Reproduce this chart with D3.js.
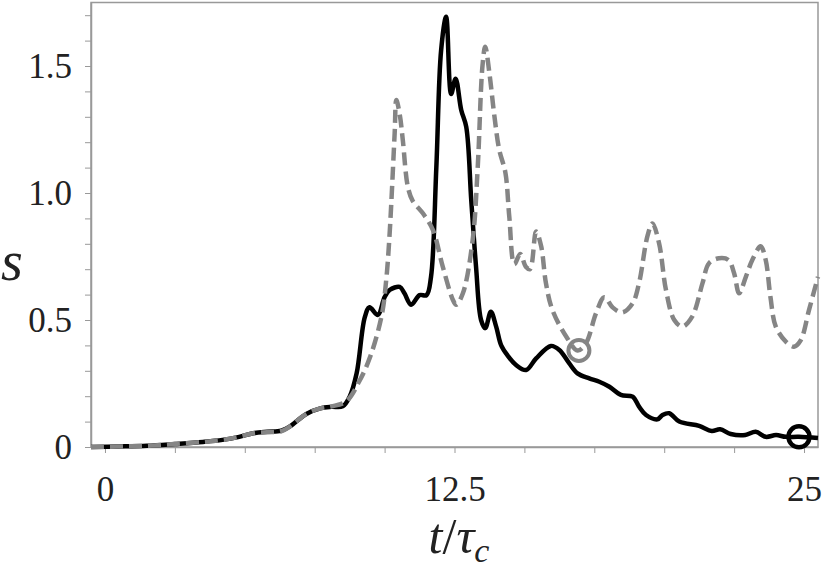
<!DOCTYPE html>
<html>
<head>
<meta charset="utf-8">
<script src="https://cdn.jsdelivr.net/npm/d3@7"></script>
<style>
  svg text, svg tspan { font-family: 'Liberation Serif', 'Times New Roman', serif !important; }
</style>
</head>
<body style="margin:0">
<script>
// t/tau_c, s  (solid black run)
const blackSeries = [
  [-0.5, 0], [0.5, 0.002], [1.5, 0.005], [2.5, 0.012], [3.5, 0.02], [4.2, 0.028], [4.8, 0.04],
  [5.3, 0.054], [5.8, 0.06], [6.3, 0.064], [6.6, 0.08], [7.2, 0.13], [7.7, 0.152], [8.1, 0.158],
  [8.5, 0.16], [8.75, 0.198], [9.0, 0.29], [9.29, 0.51], [9.46, 0.55], [9.76, 0.52], [10.0, 0.59],
  [10.18, 0.618], [10.54, 0.63], [10.71, 0.605], [10.95, 0.56], [11.25, 0.598], [11.5, 0.598],
  [11.66, 0.67], [11.85, 1.1], [12.02, 1.56], [12.2, 1.694], [12.38, 1.39], [12.54, 1.45],
  [12.74, 1.327], [12.92, 1.26], [13.1, 0.97], [13.27, 0.71], [13.45, 0.5], [13.6, 0.468],
  [13.8, 0.532], [13.99, 0.474], [14.17, 0.4], [14.4, 0.36], [14.7, 0.323], [15.06, 0.303],
  [15.42, 0.349], [15.95, 0.398], [16.25, 0.382], [16.6, 0.33], [16.9, 0.29], [17.32, 0.27],
  [17.68, 0.257], [18.04, 0.237], [18.45, 0.205], [18.87, 0.198], [19.1, 0.159], [19.35, 0.126],
  [19.76, 0.109], [19.94, 0.126], [20.18, 0.133], [20.54, 0.1], [21.25, 0.083], [21.7, 0.063],
  [22.0, 0.07], [22.38, 0.051], [22.9, 0.047], [23.27, 0.06], [23.63, 0.04], [24.0, 0.047],
  [24.35, 0.04], [24.82, 0.04], [25.5, 0.035]
];

// t/tau_c, s  (dashed grey run)
const greySeries = [
  [-0.5, 0], [0.5, 0.002], [1.5, 0.005], [2.5, 0.012], [3.5, 0.02], [4.2, 0.028], [4.8, 0.04],
  [5.3, 0.054], [5.8, 0.058], [6.3, 0.062], [6.6, 0.08], [7.2, 0.13], [7.7, 0.152], [8.1, 0.16],
  [8.63, 0.18], [9.1, 0.26], [9.5, 0.36], [9.9, 0.52], [10.06, 0.66], [10.18, 0.84], [10.36, 1.235],
  [10.42, 1.366], [10.54, 1.31], [10.65, 1.21], [10.83, 1.025], [11.0, 0.97], [11.37, 0.92],
  [11.73, 0.854], [12.08, 0.71], [12.44, 0.58], [12.56, 0.56], [12.8, 0.605], [13.15, 0.815],
  [13.33, 1.1], [13.5, 1.5], [13.6, 1.576], [13.75, 1.47], [13.93, 1.3], [14.1, 1.17], [14.32, 1.08],
  [14.46, 0.906], [14.64, 0.72], [14.85, 0.76], [15.05, 0.71], [15.2, 0.70], [15.42, 0.848],
  [15.6, 0.79], [15.77, 0.645], [16.0, 0.54], [16.5, 0.434], [16.9, 0.38], [17.2, 0.408],
  [17.56, 0.526], [17.86, 0.59], [18.15, 0.55], [18.5, 0.53], [18.87, 0.566], [19.1, 0.645],
  [19.4, 0.83], [19.58, 0.88], [19.82, 0.80], [20.06, 0.62], [20.36, 0.5], [20.65, 0.474],
  [21.0, 0.513], [21.37, 0.645], [21.6, 0.723], [21.96, 0.743], [22.3, 0.736], [22.5, 0.684],
  [22.68, 0.605], [22.92, 0.67], [23.15, 0.736], [23.45, 0.79], [23.63, 0.736], [23.8, 0.59],
  [23.99, 0.474], [24.35, 0.415], [24.64, 0.395], [24.88, 0.42], [25.18, 0.54], [25.5, 0.67]
];

// circled points on each run
const greyMarker = [16.95, 0.38];
const blackMarker = [24.82, 0.04];

const xTicks = [0, 2.5, 5, 7.5, 10, 12.5, 15, 17.5, 20, 22.5, 25];
const xTickLabels = ['0', '', '', '', '', '12.5', '', '', '', '', '25'];
const yTicks = [0, 0.1, 0.2, 0.3, 0.4, 0.5, 0.6, 0.7, 0.8, 0.9, 1.0, 1.1, 1.2, 1.3, 1.4, 1.5, 1.6, 1.7];
const yTickLabels = ['0', '', '', '', '', '0.5', '', '', '', '', '1.0', '', '', '', '', '1.5', '', ''];

const width = 825, height = 575;
const margin = { top: 2.5, right: 7, bottom: 128, left: 91 };
const frameColor = '#999';
const textColor = '#222';
const greyColor = '#858585';

const svg = d3.select('body').append('svg')
  .attr('width', width)
  .attr('height', height)
  .attr('font-family', 'Liberation Serif')
  .style('display', 'block');

const xScaleFn = d3.scaleLinear()
  .domain([-0.5, 25.5])
  .range([margin.left, width - margin.right]);

const yScaleFn = d3.scaleLinear()
  .domain([0, 1.75])
  .range([height - margin.bottom, margin.top]);

// frame
svg.append('rect')
  .attr('x', xScaleFn.range()[0])
  .attr('y', yScaleFn.range()[1])
  .attr('width', xScaleFn.range()[1] - xScaleFn.range()[0])
  .attr('height', yScaleFn.range()[0] - yScaleFn.range()[1])
  .attr('fill', 'none')
  .attr('stroke', frameColor)
  .attr('stroke-width', 1.5);

const xAxis = svg.append('g')
  .attr('transform', 'translate(0,' + yScaleFn.range()[0] + ')')
  .call(d3.axisBottom(xScaleFn)
    .tickValues(xTicks)
    .tickSizeInner(6)
    .tickSizeOuter(0)
    .tickFormat((d, i) => xTickLabels[i]))
  .attr('font-family', 'Liberation Serif')
  .attr('font-size', 35);

xAxis.select('.domain').attr('stroke', frameColor).attr('stroke-width', 1.5);
xAxis.selectAll('line').attr('stroke', frameColor);
xAxis.selectAll('text')
  .attr('y', 54)
  .attr('dy', 0)
  .attr('fill', textColor);

const yAxis = svg.append('g')
  .attr('transform', 'translate(' + xScaleFn.range()[0] + ',0)')
  .call(d3.axisLeft(yScaleFn)
    .tickValues(yTicks)
    .tickSizeInner(6)
    .tickSizeOuter(0)
    .tickFormat((d, i) => yTickLabels[i]))
  .attr('font-family', 'Liberation Serif')
  .attr('font-size', 35);

yAxis.select('.domain').attr('stroke', frameColor).attr('stroke-width', 1.5);
yAxis.selectAll('line').attr('stroke', frameColor);
yAxis.selectAll('text')
  .attr('x', -19)
  .attr('dy', '0.34em')
  .attr('fill', textColor);

// axis titles
svg.append('text')
  .attr('x', 1)
  .attr('y', 280)
  .attr('fill', textColor)
  .attr('font-family', 'Liberation Serif')
  .attr('font-style', 'italic')
  .attr('font-size', 56)
  .text('s');

const xTitle = svg.append('text')
  .attr('x', 459)
  .attr('y', 553)
  .attr('text-anchor', 'middle')
  .attr('fill', textColor)
  .attr('font-family', 'Liberation Serif')
  .attr('font-size', 50);
xTitle.append('tspan').attr('font-style', 'italic').text('t');
xTitle.append('tspan').text('/');
xTitle.append('tspan').attr('font-style', 'italic').text('τ');
xTitle.append('tspan')
  .attr('font-style', 'italic')
  .attr('font-size', 34)
  .attr('dy', 9)
  .text('c');

// curves
const line = d3.line()
  .x(d => xScaleFn(d[0]))
  .y(d => yScaleFn(d[1]))
  .curve(d3.curveCatmullRom.alpha(0.5));

const plot = svg.append('g');

plot.append('path')
  .datum(blackSeries)
  .attr('d', line)
  .attr('fill', 'none')
  .attr('stroke', '#000')
  .attr('stroke-width', 4.5)
  .attr('stroke-linejoin', 'round');

plot.append('path')
  .datum(greySeries)
  .attr('d', line)
  .attr('fill', 'none')
  .attr('stroke', greyColor)
  .attr('stroke-width', 4.5)
  .attr('stroke-dasharray', '13,6');

plot.append('circle')
  .attr('cx', xScaleFn(greyMarker[0]))
  .attr('cy', yScaleFn(greyMarker[1]))
  .attr('r', 10.5)
  .attr('fill', 'none')
  .attr('stroke', greyColor)
  .attr('stroke-width', 4);

plot.append('circle')
  .attr('cx', xScaleFn(blackMarker[0]))
  .attr('cy', yScaleFn(blackMarker[1]))
  .attr('r', 10.5)
  .attr('fill', 'none')
  .attr('stroke', '#000')
  .attr('stroke-width', 4.5);
</script>
</body>
</html>
